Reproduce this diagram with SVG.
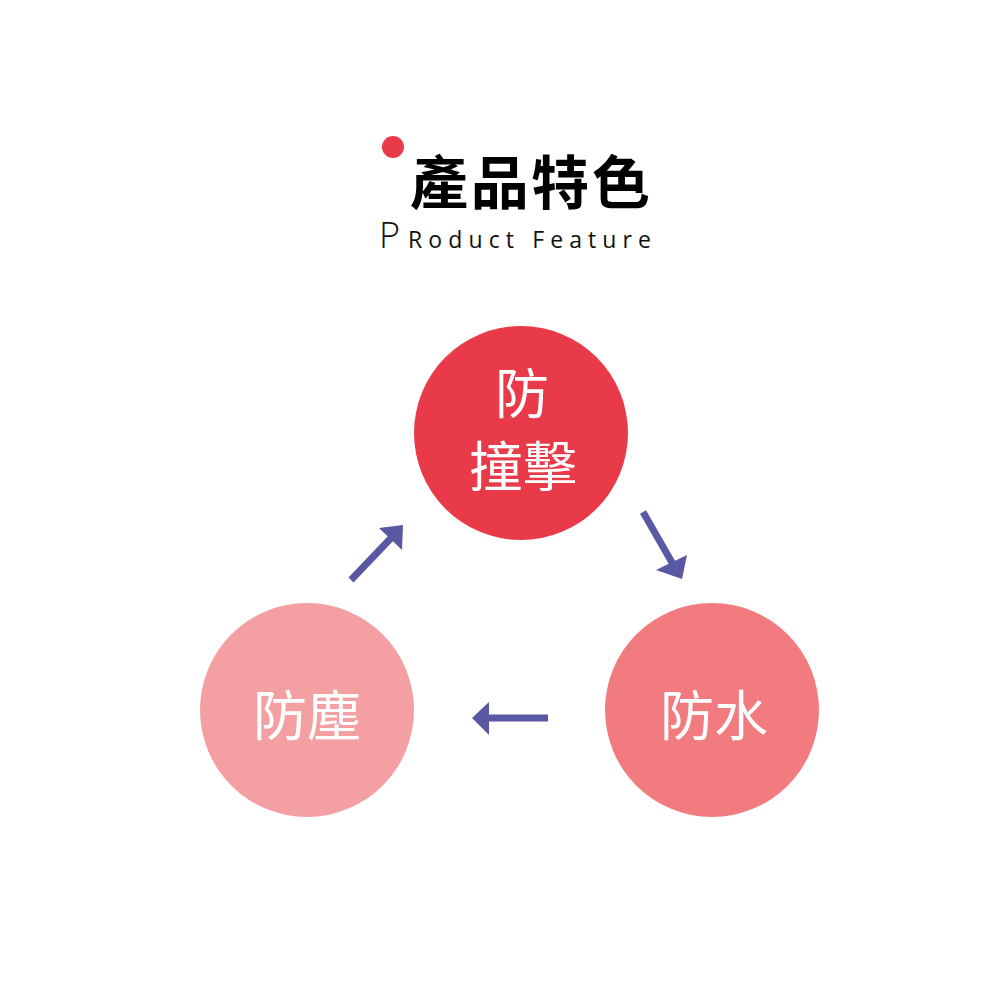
<svg xmlns="http://www.w3.org/2000/svg" width="1000" height="1000" viewBox="0 0 1000 1000">
<style>
.lbl{font-family:"Noto Sans CJK TC","Noto Sans CJK SC",sans-serif;font-size:54px;fill:#fff;text-anchor:middle}
.arr{fill:#5959a3;stroke:none}
.shaft{stroke:#5959a3;stroke-width:7;fill:none}
</style>
<rect width="1000" height="1000" fill="#fff"/>
<g id="title">
<circle cx="393" cy="147" r="11" fill="#e83a48"/>
<text x="410" y="204" font-family="Noto Sans CJK TC, Noto Sans CJK SC, sans-serif" font-size="58" font-weight="bold" fill="#000" textLength="240">產品特色</text>
<text x="379" y="248" font-family="Open Sans, Noto Sans, sans-serif" font-size="36" font-weight="300" fill="#111">P</text>
<text x="408" y="248" font-family="Open Sans, Noto Sans, sans-serif" font-size="23" fill="#111" textLength="243">Roduct Feature</text>
</g>
<g id="node-impact">
<circle cx="521" cy="433" r="107" fill="#e83a48"/>
<text class="lbl" x="522" y="414">防</text>
<text class="lbl" x="523" y="487">撞擊</text>
</g>
<g id="node-water">
<circle cx="712" cy="710" r="107" fill="#f27b7f"/>
<text class="lbl" x="714" y="736">防水</text>
</g>
<g id="node-dust">
<circle cx="307" cy="710" r="107" fill="#f4a0a3"/>
<text class="lbl" x="307" y="736">防塵</text>
</g>
<g id="connectors">
<line class="shaft" x1="351" y1="580" x2="392" y2="537"/>
<polygon class="arr" points="403,525 379,528 402,550"/>
<line class="shaft" x1="643" y1="512" x2="674" y2="566"/>
<polygon class="arr" points="682,579 656,570 687,555"/>
<line class="shaft" x1="548" y1="718" x2="485" y2="718"/>
<polygon class="arr" points="472,718 489,702 489,735"/>
</g>
</svg>
